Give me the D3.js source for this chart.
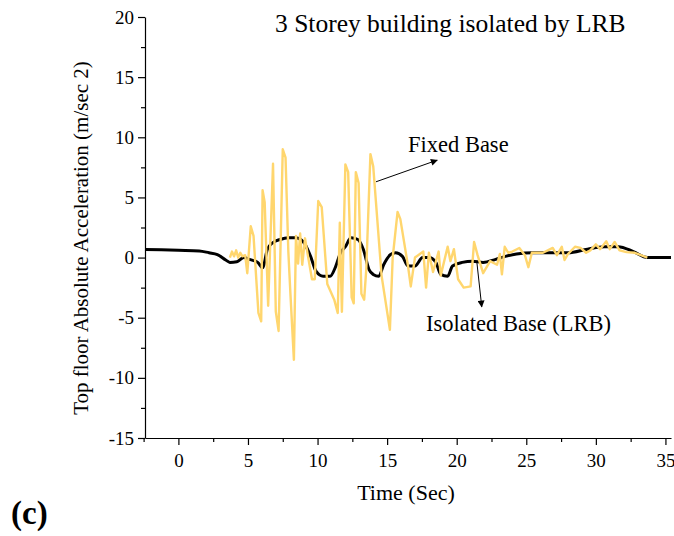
<!DOCTYPE html>
<html>
<head>
<meta charset="utf-8">
<script src="https://cdn.jsdelivr.net/npm/d3@7"></script>
<style>
  html, body { margin: 0; padding: 0; background: #fff; }
  svg { display: block; }
  text { font-family: "Liberation Serif", "Times New Roman", serif; fill: #000; }
</style>
</head>
<body>
<svg id="chart" width="674" height="536"></svg>
<script>
// Time history of top-floor absolute acceleration (m/s^2)
const fixedTime = [3.7, 3.85, 4.0, 4.15, 4.3, 4.45, 4.6, 4.8, 4.95, 5.2, 5.4, 5.75, 5.95, 6.05, 6.2, 6.45, 6.8, 7.0, 7.2, 7.5, 7.7, 7.9, 8.05, 8.3, 8.45, 8.6, 8.75, 8.9, 9.1, 9.3, 9.6, 9.8, 10.05, 10.3, 10.7, 11.2, 11.45, 11.6, 11.75, 12.0, 12.2, 12.45, 12.6, 12.75, 12.95, 13.15, 13.35, 13.5, 13.8, 14.0, 14.6, 15.2, 15.4, 15.75, 15.95, 16.5, 16.7, 17.0, 17.6, 17.8, 18.0, 18.3, 18.7, 18.85, 19.35, 19.55, 19.8, 20.1, 20.5, 21.0, 21.25, 21.5, 21.9, 22.4, 22.9, 23.1, 23.25, 23.45, 23.7, 24.0, 24.5, 24.9, 25.15, 25.4, 26.2, 26.9, 27.2, 27.55, 27.75, 28.0, 28.5, 28.9, 29.3, 29.6, 30.0, 30.3, 30.75, 31.0, 31.35, 31.7, 32.2, 32.8, 33.7];
const fixedAcc  = [0.0, 0.5, 0.1, 0.6, 0.0, 0.4, 0.1, 0.2, -1.3, 2.6, 1.8, -4.6, -5.3, 5.6, 4.6, -4.0, 7.8, -4.5, -6.1, 9.0, 8.3, 0.5, -3.0, -8.5, 1.8, -0.5, 2.0, -0.6, 1.6, 0.2, -1.8, -1.8, 4.7, 4.2, -2.2, -3.5, -4.6, 2.9, -4.5, 7.75, 7.1, -3.3, -3.8, 7.1, 6.2, -3.0, -3.5, -1.0, 8.6, 7.6, -1.5, -6.0, 0.0, 3.8, 3.2, -0.7, -2.4, 0.0, 0.5, -2.5, 0.4, -1.2, 0.5, -1.5, 0.9, -0.3, 0.7, -1.8, -2.5, -2.4, 1.3, 0.2, -1.3, -0.3, -0.6, 0.3, -1.4, 0.9, 0.4, 0.5, 0.8, 0.2, -0.8, 0.4, 0.4, 0.8, 0.2, 0.9, -0.2, 0.3, 0.9, 0.8, 0.4, 0.6, 1.1, 0.7, 1.35, 0.7, 1.3, 0.6, 0.45, 0.4, 0.0];

const isoTime = [-2.4, 0, 1.5, 2.2, 2.8, 3.4, 3.7, 4.2, 4.7, 5.1, 5.7, 6.05, 6.4, 6.8, 7.3, 7.9, 8.4, 8.8, 9.1, 9.5, 9.9, 10.4, 10.9, 11.3, 11.65, 12.0, 12.4, 12.9, 13.3, 13.7, 14.0, 14.4, 14.75, 15.25, 15.6, 16.1, 16.5, 17.0, 17.55, 18.0, 18.5, 18.85, 19.35, 19.7, 20.4, 21.15, 21.9, 22.8, 23.5, 24.3, 25.5, 28.0, 29.4, 30.6, 31.6, 32.7, 33.7, 35.4];
const isoAcc  = [0.68, 0.6, 0.55, 0.4, 0.25, -0.2, -0.4, -0.35, 0.0, -0.15, -0.4, -0.85, 0.7, 1.25, 1.5, 1.65, 1.65, 1.5, 1.1, 0.1, -1.15, -1.55, -1.55, -0.75, 0.4, 0.9, 1.65, 1.5, 0.65, -1.0, -1.4, -1.55, -0.6, 0.25, 0.4, 0.1, -0.7, -0.7, 0.0, 0.0, -0.4, -1.4, -1.55, -0.7, -0.4, -0.3, -0.4, -0.15, 0.1, 0.3, 0.4, 0.4, 0.7, 0.9, 0.9, 0.5, 0.0, 0.0];

const xTicks = [0, 5, 10, 15, 20, 25, 30, 35];
const xMinorTicks = [-2.5, 2.5, 7.5, 12.5, 17.5, 22.5, 27.5, 32.5];
const yTicks = [-15, -10, -5, 0, 5, 10, 15, 20];
const yMinorTicks = [-12.5, -7.5, -2.5, 2.5, 7.5, 12.5, 17.5];

const chartTitle = "3 Storey building isolated by LRB";
const xTitle = "Time (Sec)";
const yTitle = "Top floor Absolute Acceleration (m/sec 2)";
const panelLabel = "(c)";
const fixedLabel = "Fixed Base";
const isoLabel = "Isolated Base (LRB)";

const serif = "Liberation Serif, Times New Roman, serif";
const svg = d3.select("#chart");
const x = d3.scaleLinear().domain([-2.4, 35.4]).range([145, 671]);
const y = d3.scaleLinear().domain([-15, 20]).range([438, 17]);
const plainNum = d => String(d);

// axes: major ticks labelled, minor ticks unlabelled
svg.append("g").attr("transform", `translate(0,${y(-15)})`)
  .call(d3.axisBottom(x).tickValues(xTicks).tickFormat(plainNum).tickSize(7).tickSizeOuter(0).tickPadding(9))
  .attr("font-family", serif).attr("font-size", 19);
svg.append("g").attr("transform", `translate(0,${y(-15)})`)
  .call(d3.axisBottom(x).tickValues(xMinorTicks).tickSize(4).tickSizeOuter(0).tickFormat(""))
  .select(".domain").remove();
svg.append("g").attr("transform", `translate(${x(-2.4)},0)`)
  .call(d3.axisLeft(y).tickValues(yTicks).tickFormat(plainNum).tickSize(7).tickSizeOuter(0).tickPadding(4))
  .attr("font-family", serif).attr("font-size", 19);
svg.append("g").attr("transform", `translate(${x(-2.4)},0)`)
  .call(d3.axisLeft(y).tickValues(yMinorTicks).tickSize(4).tickSizeOuter(0).tickFormat(""))
  .select(".domain").remove();

svg.selectAll(".tick line, .domain").attr("stroke", "#000").attr("stroke-width", 1.2);

// isolated response (thick black), then fixed-base response on top
const isoData = isoTime.map((t, i) => [t, isoAcc[i]]);
const fixedData = fixedTime.map((t, i) => [t, fixedAcc[i]]);

svg.append("path")
  .datum(isoData)
  .attr("fill", "none")
  .attr("stroke", "#000")
  .attr("stroke-width", 3)
  .attr("stroke-linejoin", "round")
  .attr("d", d3.line().x(d => x(d[0])).y(d => y(d[1])).curve(d3.curveMonotoneX));

svg.append("path")
  .datum(fixedData)
  .attr("fill", "none")
  .attr("stroke", "#FFD66E")
  .attr("stroke-width", 2.4)
  .attr("stroke-linejoin", "round")
  .attr("d", d3.line().x(d => x(d[0])).y(d => y(d[1])));

// arrow heads
const defs = svg.append("defs");
defs.append("marker")
  .attr("id", "head")
  .attr("viewBox", "0 0 10 10")
  .attr("refX", 9).attr("refY", 5)
  .attr("markerWidth", 9).attr("markerHeight", 7)
  .attr("markerUnits", "userSpaceOnUse")
  .attr("orient", "auto")
  .append("path").attr("d", "M0,0 L10,5 L0,10 z").attr("fill", "#000");

svg.append("line")
  .attr("x1", x(14.2)).attr("y1", y(6.3))
  .attr("x2", x(18.6)).attr("y2", y(8.1))
  .attr("stroke", "#000").attr("stroke-width", 1)
  .attr("marker-end", "url(#head)");
svg.append("line")
  .attr("x1", x(21.45)).attr("y1", y(-0.4))
  .attr("x2", x(21.8)).attr("y2", y(-4.1))
  .attr("stroke", "#000").attr("stroke-width", 1)
  .attr("marker-end", "url(#head)");

svg.append("text").attr("x", x(16.5)).attr("y", y(8.8))
  .style("font-size", "22.5px").text(fixedLabel);
svg.append("text").attr("x", x(17.8)).attr("y", y(-6.1))
  .style("font-size", "22.5px").text(isoLabel);

// titles
svg.append("text").attr("x", 275).attr("y", 32)
  .style("font-size", "25.5px").text(chartTitle);
svg.append("text").attr("x", 406).attr("y", 500)
  .attr("text-anchor", "middle").style("font-size", "22px").text(xTitle);
svg.append("text")
  .attr("transform", `translate(88,238) rotate(-90)`)
  .attr("text-anchor", "middle").style("font-size", "21px").text(yTitle);
svg.append("text").attr("x", 11).attr("y", 524)
  .style("font-size", "33px").style("font-weight", "bold").text(panelLabel);
</script>
</body>
</html>
